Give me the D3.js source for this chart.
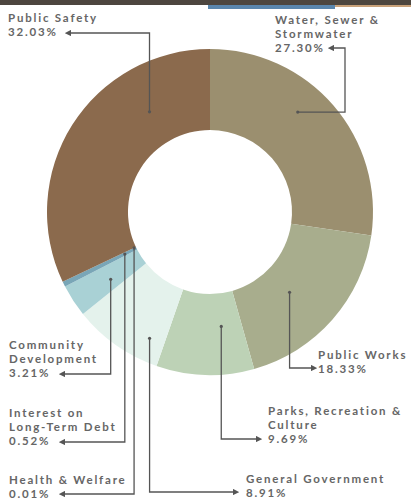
<!DOCTYPE html>
<html>
<head>
<meta charset="utf-8">
<script src="https://cdn.jsdelivr.net/npm/d3@7"></script>
<style>
  html, body { margin: 0; padding: 0; background: #fff; }
  svg { display: block; }
  text { font-family: Lato, "Open Sans", sans-serif; font-weight: 700; fill: #666; letter-spacing: 1.8px; }
</style>
</head>
<body>
<svg id="chart"></svg>
<script>
// slices in drawing order, clockwise from 12 o'clock
const categories = ["Water, Sewer & Stormwater", "Public Works", "Parks, Recreation & Culture",
  "General Government", "Community Development", "Interest on Long-Term Debt",
  "Health & Welfare", "Public Safety"];
const shares = [27.30, 18.33, 9.69, 8.91, 3.21, 0.52, 0.01, 32.03];
const labelLines = [["Water, Sewer &", "Stormwater"], ["Public Works"], ["Parks, Recreation &", "Culture"],
  ["General Government"], ["Community", "Development"], ["Interest on", "Long-Term Debt"],
  ["Health & Welfare"], ["Public Safety"]];
const colors = ["#9b8f6f", "#a8ad8d", "#bdd2b6", "#e4f2ec", "#a9d1d5", "#79a6b7", "#4c7c89", "#8b6a4d"];

var svgWidth = 411;
var svgHeight = 500;
var cx = 210, cy = 212;
var innerR = 82, outerR = 163;

// where each label sits and how its leader line runs
// t = position along the slice, r = radius of the line's start point
var layout = [
  {tx: 275, ty: 24, t: 0.42, r: 133, bx: 345, ex: 331, ey: 48},
  {tx: 318, ty: 359, t: 0.56, r: 113, ex: 314, ey: 368},
  {tx: 268, ty: 415, t: 0.29, r: 115, ex: 259, ey: 439},
  {tx: 246, ty: 483, t: 0.20, r: 140, ex: 236, ey: 492},
  {tx: 9, ty: 349, t: 0.40, r: 120, ex: 62, ey: 374},
  {tx: 9, ty: 417, t: 0.50, r: 95, ex: 62, ey: 442},
  {tx: 9, ty: 484, t: 0.50, r: 84, ex: 62, ey: 494},
  {tx: 8, ty: 22, t: 0.73, r: 117, ex: 68, ey: 33}
];

var svg = d3.select("#chart")
  .attr("width", svgWidth)
  .attr("height", svgHeight);

// thin banner strip at the top of the crop
svg.append("rect").attr("x", 0).attr("y", 0).attr("width", svgWidth).attr("height", 5).attr("fill", "#4d463f");
svg.append("rect").attr("x", 208).attr("y", 5).attr("width", 127).attr("height", 4).attr("fill", "#5a86ad");
svg.append("rect").attr("x", 335).attr("y", 5).attr("width", 76).attr("height", 2).attr("fill", "#c9a27a");

var defs = svg.append("defs");
defs.append("marker")
  .attr("id", "arrow")
  .attr("viewBox", "0 0 10 10")
  .attr("refX", 5).attr("refY", 5)
  .attr("markerWidth", 5).attr("markerHeight", 5)
  .attr("orient", "auto")
  .append("path")
  .attr("d", "M0,0L10,5L0,10Z")
  .attr("fill", "#555");

var pie = d3.pie().sort(null).value(function(d) { return d; });
var arcs = pie(shares);

var arc = d3.arc().innerRadius(innerR).outerRadius(outerR);

var g = svg.append("g").attr("transform", "translate(" + cx + "," + cy + ")");

g.selectAll("path")
  .data(arcs)
  .enter().append("path")
  .attr("d", arc)
  .attr("fill", function(d, i) { return colors[i]; });

var fmt = d3.format(".2f");

arcs.forEach(function(d, i) {
  var L = layout[i];
  var a = d.startAngle + L.t * (d.endAngle - d.startAngle);
  var ax = cx + L.r * Math.sin(a);
  var ay = cy - L.r * Math.cos(a);

  var pts;
  if (L.bx) pts = [[ax, ay], [L.bx, ay], [L.bx, L.ey], [L.ex, L.ey]];
  else pts = [[ax, ay], [ax, L.ey], [L.ex, L.ey]];

  svg.append("path")
    .attr("d", d3.line()(pts))
    .attr("fill", "none")
    .attr("stroke", "#555")
    .attr("stroke-width", 1.3)
    .attr("marker-end", "url(#arrow)");

  svg.append("circle")
    .attr("cx", ax).attr("cy", ay).attr("r", 1.6)
    .attr("fill", "#555");

  var lines = labelLines[i].concat([fmt(shares[i]) + "%"]);
  var txt = svg.append("text")
    .attr("x", L.tx).attr("y", L.ty)
    .attr("font-size", 11.5);
  lines.forEach(function(s, k) {
    txt.append("tspan")
      .attr("x", L.tx)
      .attr("dy", k == 0 ? 0 : 14)
      .text(s);
  });
});
</script>
</body>
</html>
